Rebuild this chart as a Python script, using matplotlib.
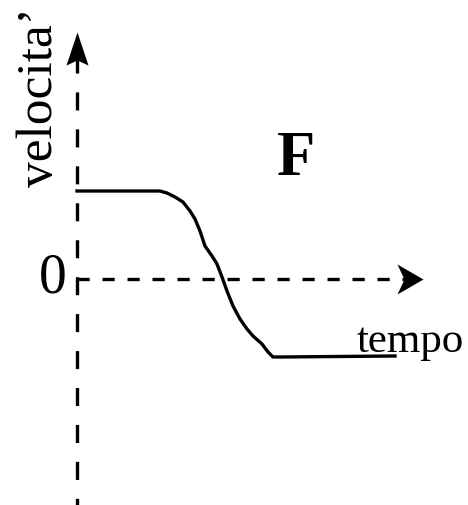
import matplotlib
matplotlib.use("Agg")
import matplotlib.pyplot as plt
from matplotlib.path import Path

# velocity vs time sketch (arbitrary units, origin where the axes cross)
time = [0.0, 0.73, 0.83, 0.90, 0.98, 1.06, 1.13, 1.18, 1.23, 1.28, 1.35,
        1.40, 1.45, 1.50, 1.56, 1.63, 1.70, 1.76, 1.85, 1.91, 1.96, 2.03, 3.18]
velocity = [0.88, 0.88, 0.88, 0.86, 0.82, 0.77, 0.68, 0.60, 0.48, 0.33, 0.23,
            0.15, 0.02, -0.12, -0.27, -0.40, -0.50, -0.57, -0.65, -0.73,
            -0.78, -0.78, -0.77]

t_axis_end = 3.46
v_axis_top = 2.47
v_axis_bottom = -2.26

fig = plt.figure(figsize=(4.68, 5.06), dpi=100)
ax = fig.add_axes([0, 0, 1, 1])
ax.set_xlim(-0.77, 3.91)
ax.set_ylim(-2.26, 2.80)
ax.axis("off")

serif = ["Liberation Serif", "DejaVu Serif"]
lw = 2.4

# dashed axes
ax.plot([0, 0], [v_axis_top - 0.23, v_axis_bottom], color="black", lw=lw,
        dashes=(13 / lw, 13.6 / lw), dash_capstyle="butt")
ax.plot([0, t_axis_end - 0.15], [0, 0], color="black", lw=lw,
        dashes=(8.8 / lw, 9.2 / lw), dash_capstyle="butt")

# arrow heads with a notched back, tip at the marker origin
head_up = Path([(0, 0), (11, -33), (0, -28), (-11, -33), (0, 0)],
               [Path.MOVETO, Path.LINETO, Path.LINETO, Path.LINETO,
                Path.CLOSEPOLY])
head_right = Path([(0, 0), (-26, 15), (-19, 0), (-26, -15), (0, 0)],
                  [Path.MOVETO, Path.LINETO, Path.LINETO, Path.LINETO,
                   Path.CLOSEPOLY])
ax.plot([0], [v_axis_top], marker=head_up, markersize=66 * 0.72,
        color="black", markeredgewidth=0)
ax.plot([t_axis_end], [0], marker=head_right, markersize=52 * 0.72,
        color="black", markeredgewidth=0)

# the curve
ax.plot(time, velocity, color="black", lw=lw, solid_joinstyle="round")

# labels
ax.text(-0.37, 1.83, "velocita\u2019", rotation=90, fontsize=37,
        family=serif, ha="center", va="center")
ax.text(-0.24, 0.01, "0", fontsize=40, family=serif, ha="center", va="center")
ax.text(2.19, 1.20, "F", fontsize=45, family=serif, fontweight="bold",
        ha="center", va="center")
ax.text(2.80, -0.72, "tempo", fontsize=31, family=serif, ha="left",
        va="baseline")

fig.savefig("out.png", dpi=100)
